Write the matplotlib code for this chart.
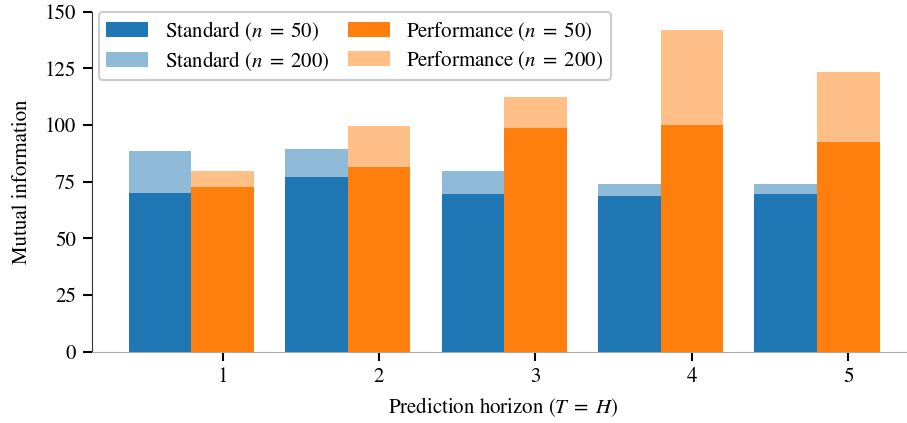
import matplotlib
matplotlib.use('Agg')
import matplotlib.pyplot as plt
import numpy as np

plt.rcParams['font.family'] = 'serif'
plt.rcParams['font.serif'] = ['STIXGeneral', 'Liberation Serif', 'DejaVu Serif']
plt.rcParams['mathtext.fontset'] = 'stix'
plt.rcParams['font.size'] = 15

# Mutual information per prediction horizon
horizons = [1, 2, 3, 4, 5]
standard_50 = [70, 77, 69.5, 68.5, 69.5]
standard_200 = [88.5, 89.5, 79.5, 74, 74]
performance_50 = [72.5, 81.5, 98.5, 100, 92.5]
performance_200 = [79.5, 99.5, 112.5, 142, 123.5]

x = np.array(horizons)
width = 0.4

fig = plt.figure(figsize=(9.07, 4.23), dpi=100)
ax = fig.add_axes([92 / 907, 1 - 351.7 / 423, 1 - 92 / 907, (351.7 - 11.7) / 423])

# larger sample size drawn behind the smaller one
ax.bar(x - width, standard_200, width, color='#8fbbd9', label=r'Standard ($n\;=\;200$)', zorder=2)
ax.bar(x - width, standard_50, width, color='#1f77b4', label=r'Standard ($n\;=\;50$)', zorder=3)
ax.bar(x, performance_200, width, color='#ffbf86', label=r'Performance ($n\;=\;200$)', zorder=2)
ax.bar(x, performance_50, width, color='#ff7f0e', label=r'Performance ($n\;=\;50$)', zorder=3)

ax.set_xticks(x)
ax.set_xlim(0.165, 5.375)
ax.set_ylim(0, 150)
ax.set_yticks([0, 25, 50, 75, 100, 125, 150])
ax.set_xlabel(r'Prediction horizon ($T\;=\;H$)')
ax.set_ylabel('Mutual information')
ax.xaxis.set_label_coords(0.5 * (387 + 620) / 815 - 92 / 815, -0.128)
ax.yaxis.set_label_coords(-0.074, 0.5)

ax.spines['top'].set_visible(False)
ax.spines['right'].set_visible(False)
ax.spines['left'].set_color('#333333')
ax.spines['bottom'].set_color('#aaaaaa')
ax.tick_params(length=6.5, width=1.5, color='black', pad=5)

handles, labels = ax.get_legend_handles_labels()
order = [1, 0, 3, 2]
leg = ax.legend([handles[i] for i in order], [labels[i] for i in order],
                ncol=2, loc='upper left', fancybox=True, framealpha=1,
                edgecolor='#cccccc', bbox_to_anchor=(7 / 815, 1.0), borderaxespad=0,
                columnspacing=0.9, labelspacing=0.3, borderpad=0.35)
leg.get_frame().set_linewidth(1.5)

fig.savefig('out.png', dpi=100)
